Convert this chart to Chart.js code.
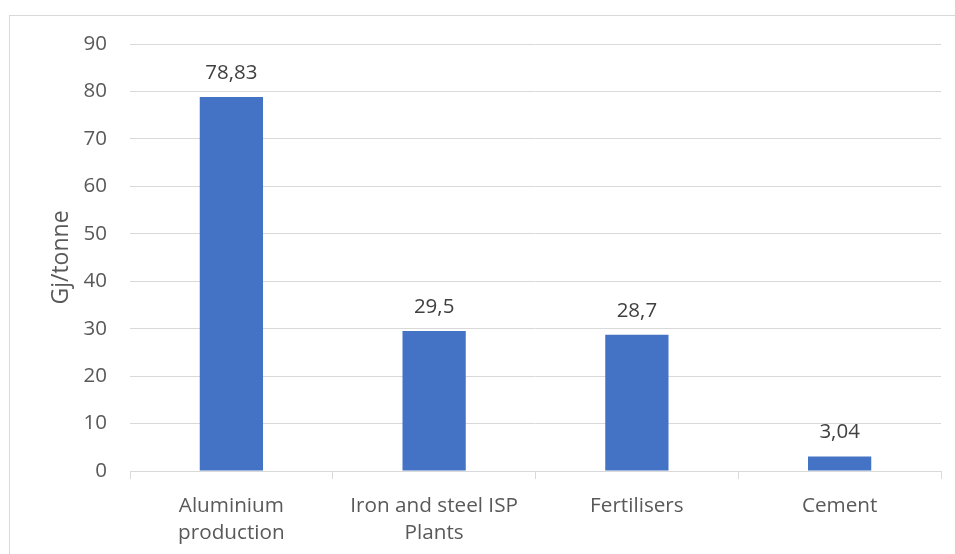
<!DOCTYPE html>
<html>
<head>
<meta charset="utf-8">
<script src="https://cdn.jsdelivr.net/npm/chart.js@4"></script>
<style>
  html, body { margin: 0; padding: 0; background: #fff; }
  #wrap { width: 955px; height: 554px; }
</style>
</head>
<body>
<div id="wrap"><canvas id="chart" width="955" height="554"></canvas></div>
<script>
const BAR = "#4472c4";
const GRID = "#d9d9d9";
const TEXT = "#595959";
const LABEL = "#404040";
const FONT = "'Open Sans', 'DejaVu Sans', sans-serif";

const categories = [
  ["Aluminium", "production"],
  ["Iron and steel ISP", "Plants"],
  ["Fertilisers"],
  ["Cement"],
];
const values = [78.83, 29.5, 28.7, 3.04];
const yTicks = [0, 10, 20, 30, 40, 50, 60, 70, 80, 90];

const fmtComma = (v) => String(v).replace(".", ",");

// light frame round the whole chart
const framePlugin = {
  id: "frame",
  beforeDraw(chart) {
    const { ctx } = chart;
    ctx.save();
    ctx.strokeStyle = GRID;
    ctx.lineWidth = 1;
    ctx.strokeRect(9.5, 15.5, 960, 560);
    ctx.restore();
  },
};

// value above each bar
const valueLabels = {
  id: "valueLabels",
  afterDatasetsDraw(chart) {
    const { ctx } = chart;
    const meta = chart.getDatasetMeta(0);
    ctx.save();
    ctx.font = `20.5px ${FONT}`;
    ctx.fillStyle = LABEL;
    ctx.textAlign = "center";
    ctx.textBaseline = "middle";
    meta.data.forEach((bar, i) => {
      ctx.fillText(fmtComma(values[i]), bar.x, bar.y - 24);
    });
    ctx.restore();
  },
};

new Chart(document.getElementById("chart"), {
  type: "bar",
  data: {
    labels: categories,
    datasets: [
      {
        data: values,
        backgroundColor: BAR,
        categoryPercentage: 1,
        barPercentage: 0.312,
      },
    ],
  },
  options: {
    responsive: false,
    animation: false,
    devicePixelRatio: 1,
    layout: { padding: { top: 44, right: 14, left: 0, bottom: 0 } },
    plugins: {
      legend: { display: false },
      tooltip: { enabled: false },
    },
    scales: {
      x: {
        grid: {
          offset: true,
          drawOnChartArea: false,
          drawTicks: true,
          tickLength: 8,
          color: GRID,
        },
        border: { color: GRID },
        ticks: {
          color: TEXT,
          font: { family: FONT, size: 20.7, lineHeight: 1.32 },
          padding: 13,
          maxRotation: 0,
          autoSkip: false,
        },
        afterFit: (s) => { s.height = 83; },
      },
      y: {
        min: 0,
        max: 90,
        afterBuildTicks: (s) => { s.ticks = yTicks.map((v) => ({ value: v })); },
        grid: { color: GRID, drawTicks: false },
        border: { display: false },
        ticks: {
          color: TEXT,
          font: { family: FONT, size: 20.5 },
          padding: 23,
        },
        title: {
          display: true,
          text: "Gj/tonne",
          color: TEXT,
          font: { family: FONT, size: 23 },
          padding: { top: 48, bottom: 0 },
        },
        afterFit: (s) => { s.width = 130; },
      },
    },
  },
  plugins: [framePlugin, valueLabels],
});
</script>
</body>
</html>
